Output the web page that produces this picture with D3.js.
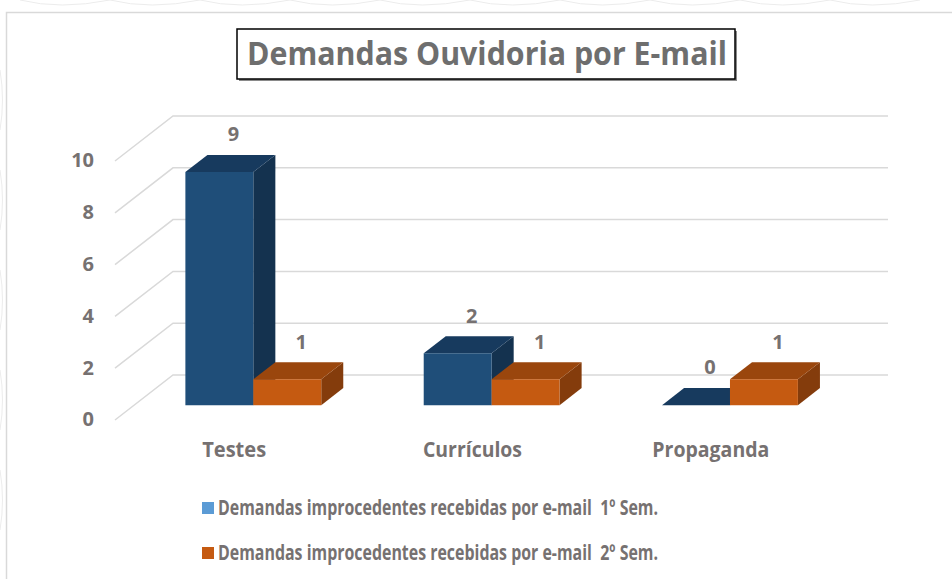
<!DOCTYPE html>
<html>
<head>
<meta charset="utf-8">
<script src="https://cdn.jsdelivr.net/npm/d3@7"></script>
<style>
  body { margin: 0; background: #fff; }
  text { font-family: "Open Sans", Lato, sans-serif; font-weight: bold; fill: #767171; white-space: pre; }
</style>
</head>
<body>
<div id="chart"></div>
<script>
// data
const categories = ["Testes", "Currículos", "Propaganda"];
const series = ["Demandas improcedentes recebidas por e-mail  1º Sem.",
                "Demandas improcedentes recebidas por e-mail  2º Sem."];
const sem1 = [9, 2, 0];
const sem2 = [1, 1, 1];
const yTicks = [0, 2, 4, 6, 8, 10];

const W = 952, H = 579;
const svg = d3.select("#chart").append("svg")
  .attr("width", W).attr("height", H);

// faint background pattern outside the card
const bg = svg.append("g").attr("fill", "none").attr("stroke", "#ececec").attr("stroke-width", 1);
[60, 150, 240, 330, 420, 510, 600, 690, 780, 870].forEach(cx => {
  bg.append("path").attr("d", `M${cx - 40},0 Q${cx},10 ${cx + 50},0`);
});
[100, 200, 300, 400, 500].forEach(cy => {
  bg.append("path").attr("d", `M0,${cy - 30} Q5,${cy} 0,${cy + 30}`);
});

// white card
svg.append("rect")
  .attr("x", 6.5).attr("y", 12.5).attr("width", W + 10).attr("height", H + 10)
  .attr("fill", "#fff").attr("stroke", "#d9d9d9").attr("stroke-width", 1.5);

// 3d projection: z=0 front plane, z=1 back wall
const depthX = 58, depthY = -45;
const y = d3.scaleLinear().domain([0, 10]).range([420, 161]);
const x0 = d3.scaleBand().domain(categories).range([115, 830])
  .paddingInner(0.43).paddingOuter(0.215);
const x1 = d3.scaleBand().domain(series).range([0, x0.bandwidth()]);
const P = (px, v, z) => [px + depthX * z, y(v) + depthY * z];

// gridlines: side wall diagonals + back wall
const grid = svg.append("g").attr("stroke", "#d9d9d9").attr("stroke-width", 1.5).attr("fill", "none");
yTicks.forEach(t => {
  const a = P(115, t, 0), b = P(115, t, 1), c = P(830, t, 1);
  grid.append("path").attr("d", `M${a}L${b}L${c}`);
});

// tick labels
svg.append("g").selectAll("text").data(yTicks).join("text")
  .attr("x", 94).attr("y", d => y(d) + 1)
  .attr("text-anchor", "end").attr("dominant-baseline", "middle")
  .style("font-size", "20px")
  .text(d => d);

// bars
const colors = [
  { front: "#1f4e79", top: "#173a5e", side: "#14324f" },
  { front: "#c55a11", top: "#9a460d", side: "#843c0c" }
];
const zF = 0.33, zB = 0.71;
const values = [sem1, sem2];
const bars = svg.append("g");
categories.forEach((cat, i) => {
  series.forEach((s, j) => {
    const v = values[j][i];
    const xl = x0(cat) + x1(s), xr = xl + x1.bandwidth();
    const c = colors[j];
    const poly = pts => "M" + pts.map(p => p.join(",")).join("L") + "Z";
    bars.append("path").attr("fill", c.side)
      .attr("d", poly([P(xr, 0, zF), P(xr, 0, zB), P(xr, v, zB), P(xr, v, zF)]));
    bars.append("path").attr("fill", c.top)
      .attr("d", poly([P(xl, v, zF), P(xl, v, zB), P(xr, v, zB), P(xr, v, zF)]));
    if (v > 0) {
      bars.append("path").attr("fill", c.front)
        .attr("d", poly([P(xl, 0, zF), P(xr, 0, zF), P(xr, v, zF), P(xl, v, zF)]));
    }
    const top = P((xl + xr) / 2, v, zF);
    bars.append("text")
      .attr("x", top[0] + 14).attr("y", top[1] - 36)
      .attr("text-anchor", "middle").attr("dominant-baseline", "middle")
      .style("font-size", "20px")
      .text(v);
  });
});

// category labels
const catWidths = [64, 99, 117];
svg.append("g").selectAll("text").data(categories).join("text")
  .attr("x", (d, i) => x0(d) + x0.bandwidth() / 2 - catWidths[i] / 2)
  .attr("y", 451)
  .attr("dominant-baseline", "middle")
  .attr("textLength", (d, i) => catWidths[i]).attr("lengthAdjust", "spacingAndGlyphs")
  .style("font-size", "21px")
  .text(d => d);

// title box
svg.append("rect").attr("x", 239).attr("y", 31).attr("width", 498).attr("height", 50)
  .attr("fill", "#8a8a8a");
svg.append("rect").attr("x", 237).attr("y", 29).attr("width", 498).attr("height", 50)
  .attr("fill", "#fff").attr("stroke", "#000").attr("stroke-width", 1.5);
svg.append("text")
  .attr("x", 247).attr("y", 56)
  .attr("dominant-baseline", "middle")
  .attr("textLength", 480).attr("lengthAdjust", "spacingAndGlyphs")
  .style("font-size", "33px").style("fill", "#6e6e6e")
  .text("Demandas Ouvidoria por E-mail");

// legend
const legendColors = ["#5b9bd5", "#c55a11"];
const legend = svg.append("g").selectAll("g").data(series).join("g")
  .attr("transform", (d, i) => `translate(202,${508 + i * 45})`);
legend.append("rect").attr("x", 0).attr("y", -6).attr("width", 12).attr("height", 12)
  .attr("fill", (d, i) => legendColors[i]);
legend.append("text")
  .attr("x", 16).attr("y", 1)
  .attr("dominant-baseline", "middle")
  .attr("textLength", 440).attr("lengthAdjust", "spacingAndGlyphs")
  .style("font-size", "21px")
  .text(d => d);
</script>
</body>
</html>
